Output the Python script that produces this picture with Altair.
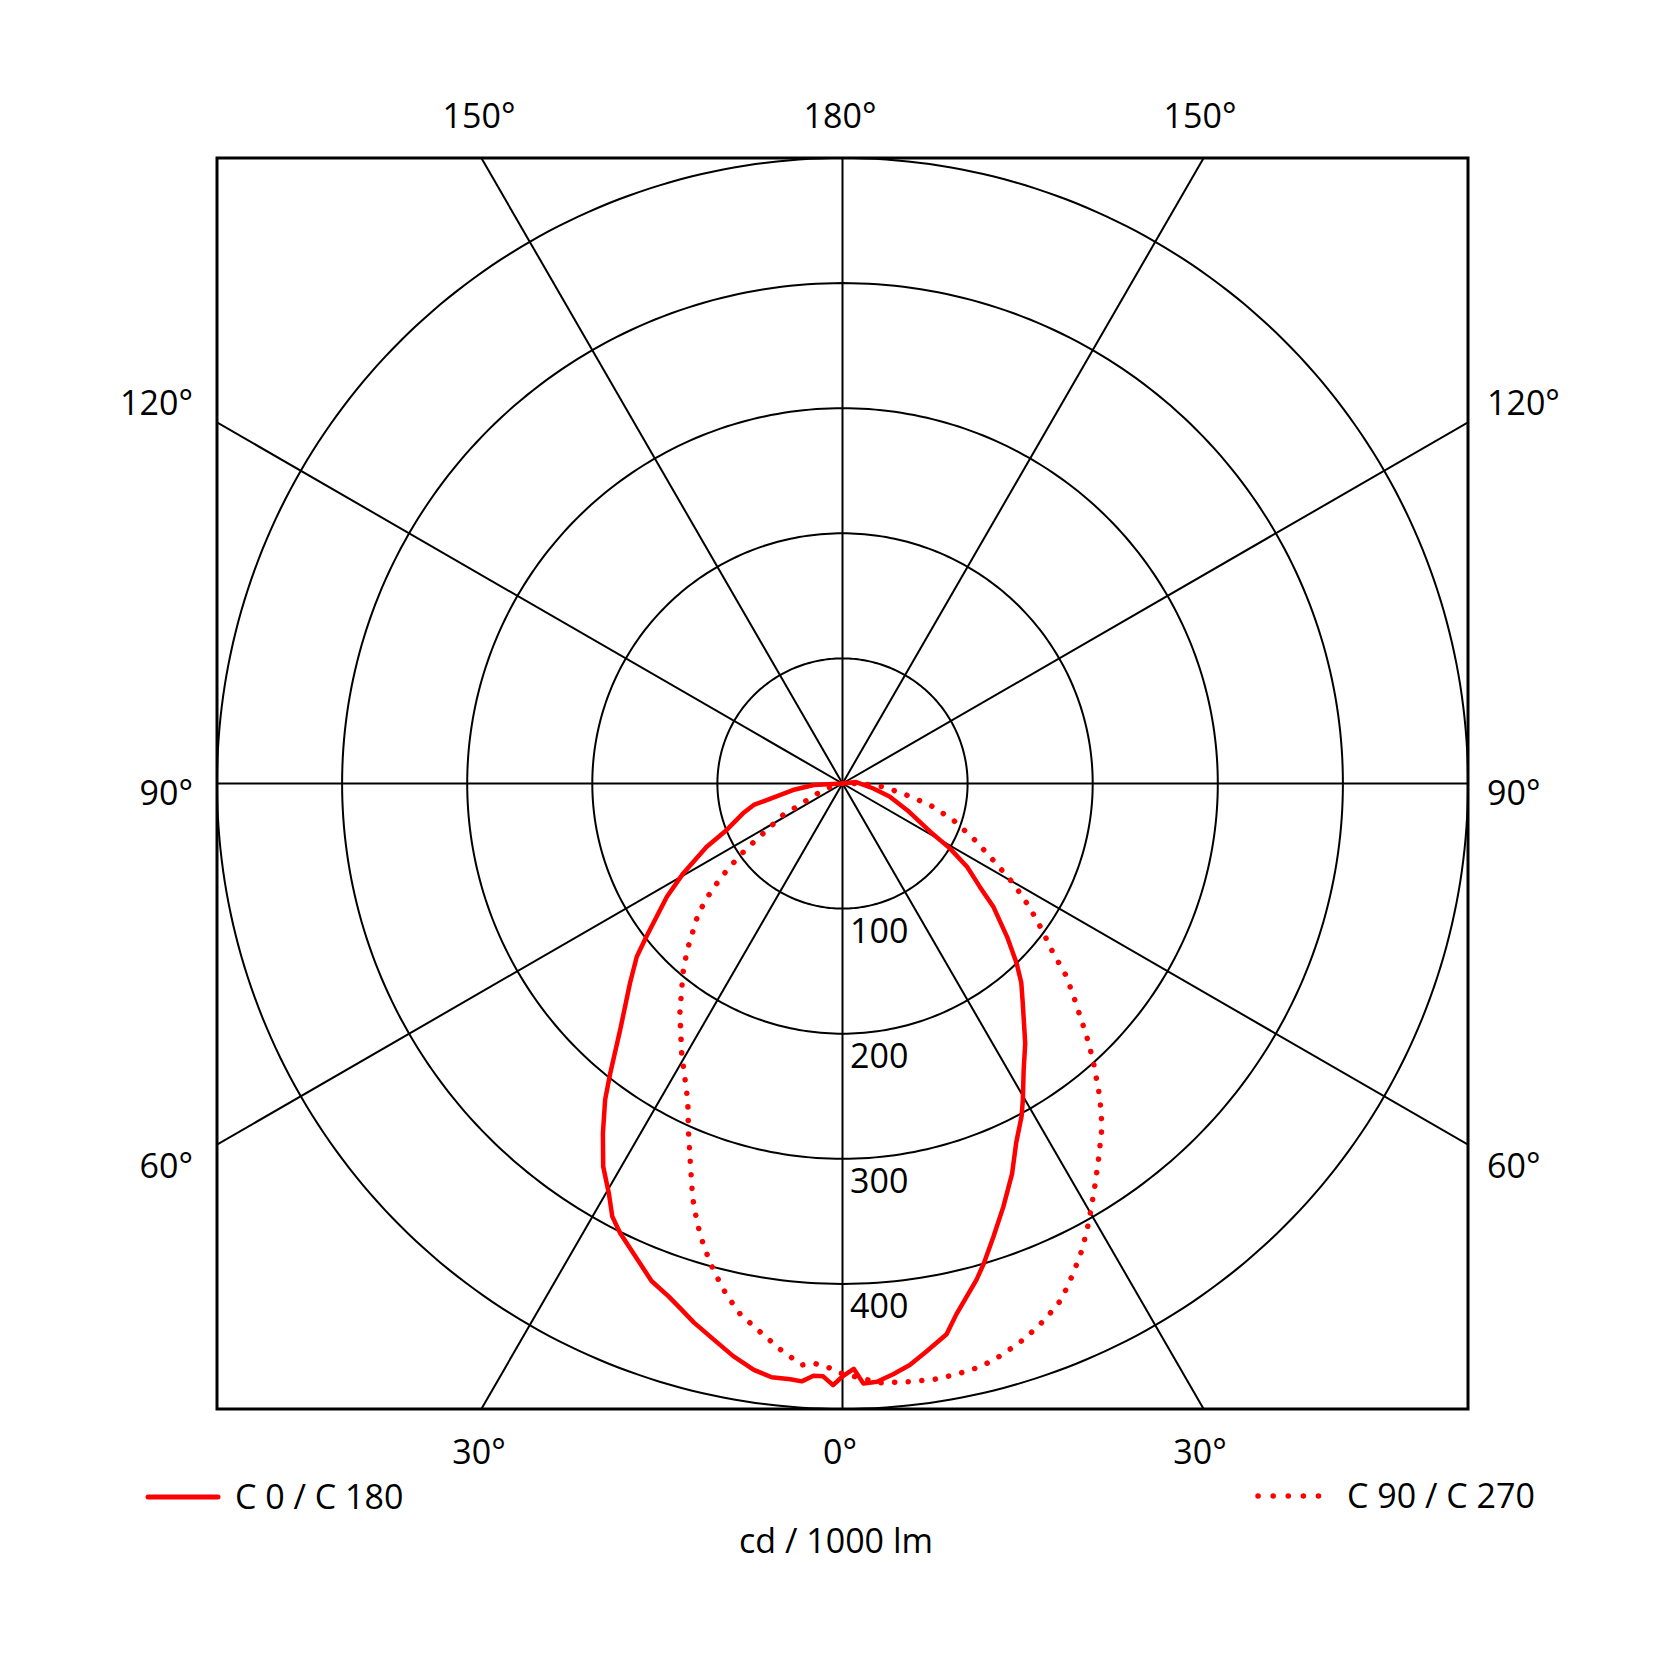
import altair as alt
import pandas as pd
import numpy as np

# ---- data: luminous intensity (cd / 1000 lm) against gamma angle (deg) ----
# C180 half (drawn on the left), from 90 deg down to 0 deg
c180_theta = [90, 87, 82.5, 77.7, 76.4, 73.3, 68.1, 65.0, 60.6, 57.2, 52.0, 49.9, 46.8, 42.1, 38.7, 36.9, 34.4, 32.0, 29.7, 28.0,
              26.3, 24.0, 21.0, 18.7, 17.2, 15.4, 13.1, 10.8, 8.6, 6.8, 5.0, 3.9, 2.8, 1.9, 0.9, 0]
c180_cd = [0, 23, 40, 62, 73, 83, 100, 120, 146, 167, 199, 215, 233, 265, 297, 316, 339, 361, 377, 392,
           401, 411, 426, 433, 439, 447, 456, 466, 474, 478, 478, 479, 474, 474, 481, 474]
# C0 half (drawn on the right), from 0 deg up to 90+ deg
c0_theta = [1.1, 2.0, 3.3, 4.9, 6.6, 8.4, 10.7, 12.1, 15.1, 16.4, 18.4, 20.8, 23.5, 25.8, 28.3, 29.7, 32.3, 35.1, 39.4, 41.9,
            44.1, 47.0, 50.7, 53.1, 56.2, 58.9, 61.2, 67.6, 74.5, 80.8, 96, 96]
c0_cd = [468, 480, 479, 474, 468, 459, 448, 434, 411, 400, 382, 362, 340, 319, 302, 291, 271, 254, 227, 214,
         200, 180, 156, 137, 120, 100, 80, 56, 39, 25, 11, 0]
# C270 half (left), from 90 deg down to 0 deg
c270_theta = [90, 73, 67.9, 63.1, 62.0, 57.8, 55.7, 53.2, 50.8, 48.0, 43.0, 40.1, 35.3, 30.8, 26.7, 25.6, 23.8, 22.0, 19.9, 18.3,
              16.7, 14.8, 12.8, 10.9, 8.6, 6.3, 4.0, 2.9, 1.6, 0.4]
c270_cd = [0, 14, 22, 41, 54, 75, 94, 115, 135, 155, 182, 198, 225, 251, 277, 286, 305, 325, 352, 370,
           386, 403, 419, 432, 443, 455, 466, 464, 466, 471]
# C90 half (right), from 0 deg up to 90 deg
c90_theta = [3.6, 6.1, 8.7, 10.9, 13.4, 15.7, 18.2, 20.7, 23.0, 25.2, 27.2, 29.2, 31.8, 34.2, 37.1, 39.4, 42.2, 44.0, 47.0, 49.3,
             51.2, 53.7, 56.4, 59.7, 63.4, 67.3, 71.8, 76.2, 79.8, 85.5, 90, 90]
c90_cd = [480, 481, 482, 481, 479, 474, 467, 458, 448, 433, 419, 403, 382, 364, 344, 324, 298, 281, 254, 236,
          216, 198, 180, 158, 133, 113, 93, 72, 52, 33, 14, 0]

ring_values = [100, 200, 300, 400, 500]
ring_labels = ["100", "200", "300", "400"]
spoke_angles = list(range(0, 360, 30))
top_labels = ["150°", "180°", "150°"]
bottom_labels = ["30°", "0°", "30°"]
side_labels = ["120°", "90°", "60°"]
legend_labels = ["C 0 / C 180", "C 90 / C 270"]
unit_label = "cd / 1000 lm"

FONT = "Open Sans"
RED = "#ff0000"
FS = 34

def curve_df(left_t, left_v, right_t, right_v):
    rows = []
    i = 0
    for t, v in zip(left_t, left_v):
        rows.append({"idx": i, "theta": t, "cd": v, "side": -1}); i += 1
    for t, v in zip(right_t, right_v):
        rows.append({"idx": i, "theta": t, "cd": v, "side": 1}); i += 1
    return pd.DataFrame(rows)

solid = curve_df(c180_theta, c180_cd, c0_theta, c0_cd)
dotted = curve_df(c270_theta, c270_cd, c90_theta, c90_cd)

# grid rings
ring_rows = []
for r in ring_values:
    for a in range(0, 361, 1):
        ring_rows.append({"ring": r, "a": a, "x": r * np.sin(np.radians(a)), "y": r * np.cos(np.radians(a))})
rings = pd.DataFrame(ring_rows)

spoke_rows = []
for a in spoke_angles:
    spoke_rows.append({"spoke": a, "o": 0, "x": 0.0, "y": 0.0})
    spoke_rows.append({"spoke": a, "o": 1, "x": 1000 * np.sin(np.radians(a)), "y": 1000 * np.cos(np.radians(a))})
spokes = pd.DataFrame(spoke_rows)

xs = alt.Scale(domain=[-500, 500], nice=False, zero=False)
ys = alt.Scale(domain=[-500, 500], nice=False, zero=False)

ring_layer = alt.Chart(rings).mark_line(color="black", strokeWidth=2).encode(
    x=alt.X("x:Q", scale=xs, axis=None), y=alt.Y("y:Q", scale=ys, axis=None),
    detail="ring:N", order="a:Q")

spoke_layer = alt.Chart(spokes).mark_line(color="black", strokeWidth=2, clip=True).encode(
    x=alt.X("x:Q", scale=xs, axis=None), y=alt.Y("y:Q", scale=ys, axis=None),
    detail="spoke:N", order="o:Q")

calc = dict(px="datum.side * datum.cd * sin(datum.theta * PI / 180)",
            py="-datum.cd * cos(datum.theta * PI / 180)")

solid_layer = alt.Chart(solid).transform_calculate(**calc).mark_line(
    color=RED, strokeWidth=4.5, strokeJoin="round", strokeCap="round").encode(
    x=alt.X("px:Q", scale=xs, axis=None), y=alt.Y("py:Q", scale=ys, axis=None), order="idx:Q")

dotted_layer = alt.Chart(dotted).transform_calculate(**calc).mark_line(
    color=RED, strokeWidth=5.5, strokeCap="round", strokeDash=[0.1, 13.5]).encode(
    x=alt.X("px:Q", scale=xs, axis=None), y=alt.Y("py:Q", scale=ys, axis=None), order="idx:Q")

ring_label_df = pd.DataFrame({"lab": ring_labels, "r": ring_values[:4]})
ring_label_layer = alt.Chart(ring_label_df).transform_calculate(ny="-datum.r").mark_text(
    align="left", baseline="alphabetic", font=FONT, fontSize=FS, color="black", dy=34).encode(
    x=alt.value(633), y=alt.Y("ny:Q", scale=ys, axis=None), text="lab:N")

one = pd.DataFrame({"k": [0]})

def label(text, x, y, align="center"):
    return alt.Chart(one).mark_text(text=text, align=align, baseline="alphabetic",
                                    font=FONT, fontSize=FS, color="black").encode(
        x=alt.value(x), y=alt.value(y))

labels = []
for t, x in zip(top_labels, [262, 623, 983]):
    labels.append(label(t, x, -30))
for t, x in zip(bottom_labels, [262, 623, 983]):
    labels.append(label(t, x, 1306))
for t, y in zip(side_labels, [257, 647, 1020]):
    labels.append(label(t, -24, y, "right"))
    labels.append(label(t, 1270, y, "left"))

labels.append(label(legend_labels[0], 18, 1351, "left"))
labels.append(label(legend_labels[1], 1130, 1350, "left"))
labels.append(label(unit_label, 619, 1395, "center"))

leg_solid = alt.Chart(one).mark_rule(color=RED, strokeWidth=5, strokeCap="round").encode(
    x=alt.value(-69), x2=alt.value(1), y=alt.value(1339))
leg_dot = alt.Chart(one).mark_rule(color=RED, strokeWidth=5.5, strokeCap="round", strokeDash=[0.1, 15]).encode(
    x=alt.value(1041), x2=alt.value(1103), y=alt.value(1338))

chart = alt.layer(ring_layer, spoke_layer, solid_layer, dotted_layer, ring_label_layer,
                  leg_solid, leg_dot, *labels).properties(
    width=1251, height=1251,
    autosize=alt.AutoSizeParams(type="none"),
    padding={"left": 209, "top": 150, "right": 190, "bottom": 250},
    background="white",
).configure_view(stroke="black", strokeWidth=3)

chart.save("out.html", embed_options={"renderer": "svg", "actions": False})
